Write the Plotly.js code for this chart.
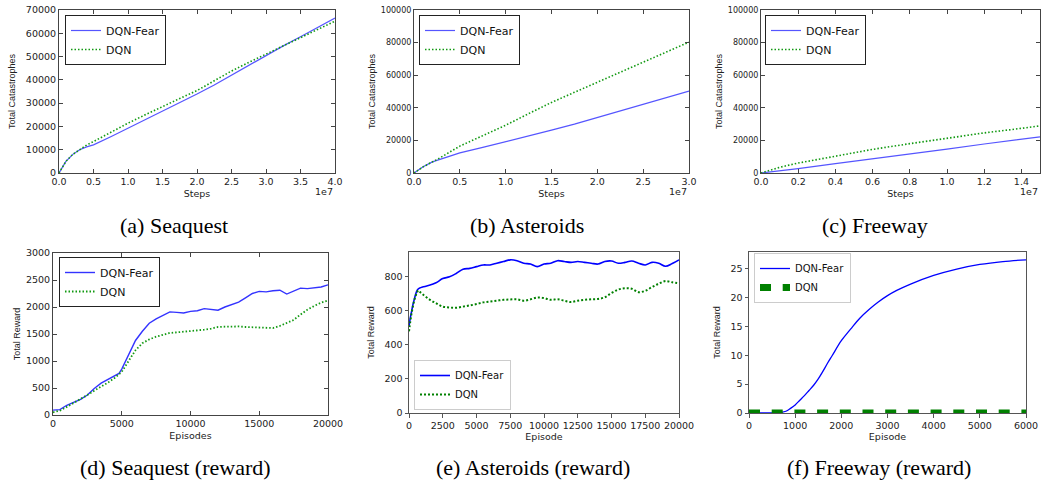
<!DOCTYPE html>
<html>
<head>
<meta charset="utf-8">
<script src="https://cdn.plot.ly/plotly-3.0.1.min.js"></script>
<style>html,body{margin:0;padding:0;background:#fff;}#chart{width:1051px;height:483px;}</style>
</head>
<body>
<div id="chart"></div>
<script>
// ---- (a) Seaquest: total catastrophes vs steps
const seaSteps = [0, 0.05e7, 0.1e7, 0.2e7, 0.3e7, 0.4e7, 0.5e7, 0.75e7, 1.0e7, 1.25e7, 1.5e7, 1.75e7, 2.0e7, 2.25e7, 2.5e7, 2.75e7, 3.0e7, 3.25e7, 3.5e7, 3.75e7, 4.0e7];
const seaFearCat = [0, 2800, 5000, 8000, 10000, 11200, 12100, 15600, 19200, 23000, 26600, 30200, 33900, 37800, 42000, 46200, 50500, 54600, 58500, 62500, 66500];
const seaDqnCat  = [0, 2800, 5000, 8000, 10200, 12000, 13500, 17500, 21400, 25000, 28600, 32000, 35400, 39600, 43800, 47500, 51000, 54500, 58000, 61500, 65200];
// ---- (b) Asteroids
const astSteps = [0, 0.1e7, 0.2e7, 0.25e7, 0.5e7, 0.75e7, 1.0e7, 1.25e7, 1.5e7, 1.75e7, 2.0e7, 2.25e7, 2.5e7, 2.75e7, 3.0e7];
const astFearCat = [0, 3800, 6800, 7800, 12300, 15700, 19100, 22700, 26300, 30000, 34000, 38000, 42200, 46200, 50300];
const astDqnCat  = [0, 3800, 6800, 8200, 16500, 23000, 29300, 36400, 43300, 49500, 55600, 62000, 68200, 74300, 80300];
// ---- (c) Freeway
const frwSteps = [0, 0.1e7, 0.2e7, 0.4e7, 0.6e7, 0.8e7, 1.0e7, 1.2e7, 1.4e7, 1.5e7];
const frwFearCat = [0, 1200, 2700, 5700, 8600, 11500, 14600, 17800, 20700, 22200];
const frwDqnCat  = [0, 3500, 6100, 10500, 14500, 18000, 21500, 24600, 27400, 28900];
// ---- (d) Seaquest reward
const seaEpisodes = [0, 500, 1000, 1500, 2000, 2500, 3000, 3500, 4000, 4500, 4800, 5000, 5500, 6000, 6500, 7000, 7500, 8000, 8500, 9000, 9500, 10000, 10500, 11000, 11500, 12000, 12500, 13000, 13500, 14000, 14500, 15000, 15500, 16000, 16500, 17000, 17500, 18000, 18500, 19000, 19500, 20000];
const seaFearRew = [90, 100, 180, 230, 290, 370, 490, 590, 660, 730, 770, 850, 1130, 1380, 1550, 1700, 1780, 1850, 1910, 1900, 1890, 1920, 1930, 1970, 1950, 1940, 2000, 2040, 2090, 2170, 2250, 2290, 2280, 2300, 2310, 2240, 2290, 2350, 2340, 2350, 2370, 2410];
const seaDqnRew  = [50, 80, 150, 220, 290, 370, 450, 520, 600, 690, 750, 800, 1000, 1200, 1330, 1400, 1450, 1490, 1520, 1530, 1540, 1550, 1565, 1580, 1600, 1630, 1635, 1640, 1640, 1630, 1625, 1620, 1615, 1610, 1650, 1700, 1760, 1860, 1950, 2020, 2080, 2120];
// ---- (e) Asteroids reward
const astEpisodes = [0, 100, 200, 300, 400, 500, 600, 700, 800, 1000, 1500, 2000, 2500, 3000, 3500, 4000, 4500, 5000, 5500, 6000, 6500, 7000, 7500, 8000, 8500, 9000, 9500, 10000, 10500, 11000, 11500, 12000, 12500, 13000, 13500, 14000, 14500, 15000, 15500, 16000, 16500, 17000, 17500, 18000, 18500, 19000, 19500, 20000];
const astFearRew = [510, 560, 600, 640, 670, 700, 720, 730, 735, 740, 750, 765, 790, 800, 820, 845, 850, 860, 870, 870, 880, 890, 900, 895, 880, 875, 860, 875, 880, 895, 890, 885, 890, 885, 880, 875, 890, 893, 880, 885, 893, 880, 870, 885, 880, 862, 878, 900];
const astDqnRew  = [480, 540, 590, 630, 665, 690, 710, 720, 712, 698, 668, 645, 625, 620, 618, 625, 632, 640, 650, 655, 660, 665, 667, 668, 660, 668, 678, 675, 665, 668, 660, 652, 660, 665, 668, 670, 680, 705, 725, 733, 730, 710, 718, 740, 760, 775, 768, 762];
// ---- (f) Freeway reward
const frwEpisodes = [0, 200, 400, 600, 700, 800, 900, 1000, 1100, 1200, 1300, 1400, 1500, 1600, 1700, 1800, 2000, 2200, 2400, 2600, 2800, 3000, 3200, 3500, 4000, 4500, 5000, 5500, 6000];
const frwFearRew = [0, 0, 0, 0.05, 0.1, 0.3, 0.8, 1.4, 2.2, 3.0, 3.9, 4.8, 5.9, 7.2, 8.6, 9.9, 12.5, 14.5, 16.4, 17.9, 19.2, 20.3, 21.2, 22.3, 23.8, 24.9, 25.7, 26.2, 26.5];
const frwDqnEpisodes = [0, 6000];
const frwDqnRew = [0, 0];

// tick labels
const seaStepTicks = [0, 0.5e7, 1.0e7, 1.5e7, 2.0e7, 2.5e7, 3.0e7, 3.5e7, 4.0e7];
const seaStepText = ['0.0','0.5','1.0','1.5','2.0','2.5','3.0','3.5','4.0'];
const astStepTicks = [0, 0.5e7, 1.0e7, 1.5e7, 2.0e7, 2.5e7, 3.0e7];
const astStepText = ['0.0','0.5','1.0','1.5','2.0','2.5','3.0'];
const frwStepTicks = [0, 0.2e7, 0.4e7, 0.6e7, 0.8e7, 1.0e7, 1.2e7, 1.4e7];
const frwStepText = ['0.0','0.2','0.4','0.6','0.8','1.0','1.2','1.4'];

const W = 1051, H = 483;
const BLUE = '#3333ff', GREEN = '#119911';
const TXT = '#222';
const tickFont = {family: 'DejaVu Sans, sans-serif', size: 9.5, color: TXT};
const smallTickFont = {family: 'DejaVu Sans, sans-serif', size: 8, color: TXT};
const titleFont = {family: 'Liberation Sans, Arial, sans-serif', size: 9, color: TXT};

function px(x0, x1) { return [x0 / W, x1 / W]; }
function py(top, bottom) { return [1 - bottom / H, 1 - top / H]; }

function classicX(dom, anchor, range, extra) {
  return Object.assign({domain: dom, anchor: anchor, range: range, showgrid: false, zeroline: false,
    showline: true, linecolor: '#444', linewidth: 1, mirror: 'ticks', ticks: 'inside', ticklen: 4,
    tickcolor: '#444', tickfont: tickFont, tickangle: 0, automargin: false, fixedrange: true}, extra);
}
function modernX(dom, anchor, range, extra) {
  return Object.assign({domain: dom, anchor: anchor, range: range, showgrid: false, zeroline: false,
    showline: true, linecolor: '#555', linewidth: 1, mirror: true, ticks: 'outside', ticklen: 3.5,
    tickcolor: '#555', tickfont: {family: 'DejaVu Sans, sans-serif', size: 9.5, color: TXT}, tickangle: 0, automargin: false, fixedrange: true}, extra);
}

const traces = [
  {x: seaSteps, y: seaFearCat, xaxis: 'x', yaxis: 'y', name: 'DQN-Fear', mode: 'lines', line: {color: '#5555ff', width: 1.2}, legend: 'legend'},
  {x: seaSteps, y: seaDqnCat, xaxis: 'x', yaxis: 'y', name: 'DQN', mode: 'lines', line: {color: GREEN, width: 1.6, dash: '1.5px,2px'}, legend: 'legend'},
  {x: astSteps, y: astFearCat, xaxis: 'x2', yaxis: 'y2', name: 'DQN-Fear', mode: 'lines', line: {color: '#5555ff', width: 1.2}, legend: 'legend2'},
  {x: astSteps, y: astDqnCat, xaxis: 'x2', yaxis: 'y2', name: 'DQN', mode: 'lines', line: {color: GREEN, width: 1.6, dash: '1.5px,2px'}, legend: 'legend2'},
  {x: frwSteps, y: frwFearCat, xaxis: 'x3', yaxis: 'y3', name: 'DQN-Fear', mode: 'lines', line: {color: '#5555ff', width: 1.2}, legend: 'legend3'},
  {x: frwSteps, y: frwDqnCat, xaxis: 'x3', yaxis: 'y3', name: 'DQN', mode: 'lines', line: {color: GREEN, width: 1.6, dash: '1.5px,2px'}, legend: 'legend3'},
  {x: seaEpisodes, y: seaFearRew, xaxis: 'x4', yaxis: 'y4', name: 'DQN-Fear', mode: 'lines', line: {color: BLUE, width: 1.4}, legend: 'legend4'},
  {x: seaEpisodes, y: seaDqnRew, xaxis: 'x4', yaxis: 'y4', name: 'DQN', mode: 'lines', line: {color: GREEN, width: 1.8, dash: '1.5px,2px'}, legend: 'legend4'},
  {x: astEpisodes, y: astFearRew, xaxis: 'x5', yaxis: 'y5', name: 'DQN-Fear', mode: 'lines', line: {color: '#0000ff', width: 1.6, shape: 'spline'}, legend: 'legend5'},
  {x: astEpisodes, y: astDqnRew, xaxis: 'x5', yaxis: 'y5', name: 'DQN', mode: 'lines', line: {color: '#008000', width: 2, dash: '2px,2px', shape: 'spline'}, legend: 'legend5'},
  {x: frwEpisodes, y: frwFearRew, xaxis: 'x6', yaxis: 'y6', name: 'DQN-Fear', mode: 'lines', line: {color: '#0000ff', width: 1.3, shape: 'spline'}, legend: 'legend6'},
  {x: frwDqnEpisodes, y: frwDqnRew, xaxis: 'x6', yaxis: 'y6', name: 'DQN', mode: 'lines', line: {color: '#008000', width: 7, dash: '11px,11.7px'}, legend: 'legend6'}
];

const dTopRow = py(10, 173);
const d2 = py(253, 415);
const d3 = py(252, 413);

function legendBox(x, y, yanchor, modern) {
  return {x: x, y: y, xanchor: 'left', yanchor: yanchor, xref: 'paper', yref: 'paper',
    bgcolor: modern ? 'rgba(255,255,255,0.85)' : '#fff',
    bordercolor: modern ? '#cccccc' : '#222', borderwidth: 1,
    font: {family: 'DejaVu Sans, sans-serif', size: modern ? 10 : 11, color: '#111'},
    tracegroupgap: 0, itemwidth: 30};
}

const stepsTitle = (s, so) => ({text: s, font: {family: 'DejaVu Sans, sans-serif', size: 9.5, color: TXT}, standoff: so});
const yTitle = (s, so) => ({text: s, font: titleFont, standoff: so});

const capFont = {family: 'Liberation Serif, Times New Roman, serif', size: 22, color: '#000'};
const e7Font = {family: 'DejaVu Sans, sans-serif', size: 9.5, color: TXT};

const layout = {
  width: W, height: H, margin: {l: 0, r: 0, t: 0, b: 0},
  paper_bgcolor: '#fff', plot_bgcolor: '#fff', showlegend: true,
  xaxis: classicX(px(59, 335), 'y', [0, 4.0e7], {tickvals: seaStepTicks, ticktext: seaStepText, title: stepsTitle('Steps', 3)}),
  yaxis: classicX(dTopRow, 'x', [0, 70000], {dtick: 10000, tickformat: 'd', title: yTitle('Total Catastrophes', 8)}),
  xaxis2: classicX(px(414, 689), 'y2', [0, 3.0e7], {tickvals: astStepTicks, ticktext: astStepText, title: stepsTitle('Steps', 3)}),
  yaxis2: classicX(dTopRow, 'x2', [0, 100000], {dtick: 20000, tickformat: 'd', tickfont: smallTickFont, title: yTitle('Total Catastrophes', 3)}),
  xaxis3: classicX(px(761, 1040), 'y3', [0, 1.5e7], {tickvals: frwStepTicks, ticktext: frwStepText, title: stepsTitle('Steps', 3)}),
  yaxis3: classicX(dTopRow, 'x3', [0, 100000], {dtick: 20000, tickformat: 'd', tickfont: smallTickFont, title: yTitle('Total Catastrophes', 3)}),
  xaxis4: classicX(px(53, 328), 'y4', [0, 20000], {dtick: 5000, tickformat: 'd', title: stepsTitle('Episodes', 3)}),
  yaxis4: classicX(d2, 'x4', [0, 3000], {dtick: 500, tickformat: 'd', title: yTitle('Total Reward', 3)}),
  xaxis5: modernX(px(409, 679), 'y5', [0, 20000], {dtick: 2500, tickformat: 'd', title: stepsTitle('Episode', 0)}),
  yaxis5: modernX(d3, 'x5', [0, 946], {dtick: 200, tickformat: 'd', title: yTitle('Total Reward', 8)}),
  xaxis6: modernX(px(749, 1026), 'y6', [0, 6000], {dtick: 1000, tickformat: 'd', title: stepsTitle('Episode', 0)}),
  yaxis6: modernX(d3, 'x6', [0, 27.85], {dtick: 5, tickformat: 'd', title: yTitle('Total Reward', 8)}),
  legend: legendBox(65 / W, 1 - 15 / H, 'top', false),
  legend2: legendBox(419 / W, 1 - 15 / H, 'top', false),
  legend3: legendBox(765 / W, 1 - 15 / H, 'top', false),
  legend4: legendBox(59 / W, 1 - 257 / H, 'top', false),
  legend5: legendBox(414 / W, 1 - 410 / H, 'bottom', true),
  legend6: legendBox(754 / W, 1 - 253 / H, 'top', true),
  annotations: [
    {text: '1e7', xref: 'x domain', yref: 'paper', x: 1, y: 1 - 191 / H, xanchor: 'right', yanchor: 'middle', showarrow: false, font: e7Font},
    {text: '1e7', xref: 'x2 domain', yref: 'paper', x: 1, y: 1 - 191 / H, xanchor: 'right', yanchor: 'middle', showarrow: false, font: e7Font},
    {text: '1e7', xref: 'x3 domain', yref: 'paper', x: 1, y: 1 - 191 / H, xanchor: 'right', yanchor: 'middle', showarrow: false, font: e7Font},
    {text: '(a) Seaquest', xref: 'paper', yref: 'paper', x: 174 / W, y: 1 - 226 / H, xanchor: 'center', yanchor: 'middle', showarrow: false, font: capFont},
    {text: '(b) Asteroids', xref: 'paper', yref: 'paper', x: 526.5 / W, y: 1 - 226 / H, xanchor: 'center', yanchor: 'middle', showarrow: false, font: capFont},
    {text: '(c) Freeway', xref: 'paper', yref: 'paper', x: 875 / W, y: 1 - 226 / H, xanchor: 'center', yanchor: 'middle', showarrow: false, font: capFont},
    {text: '(d) Seaquest (reward)', xref: 'paper', yref: 'paper', x: 175.5 / W, y: 1 - 467 / H, xanchor: 'center', yanchor: 'middle', showarrow: false, font: capFont},
    {text: '(e) Asteroids (reward)', xref: 'paper', yref: 'paper', x: 532.5 / W, y: 1 - 467 / H, xanchor: 'center', yanchor: 'middle', showarrow: false, font: capFont},
    {text: '(f) Freeway (reward)', xref: 'paper', yref: 'paper', x: 878.5 / W, y: 1 - 467 / H, xanchor: 'center', yanchor: 'middle', showarrow: false, font: capFont}
  ]
};

Plotly.newPlot('chart', traces, layout, {displayModeBar: false, staticPlot: true});
</script>
</body>
</html>
